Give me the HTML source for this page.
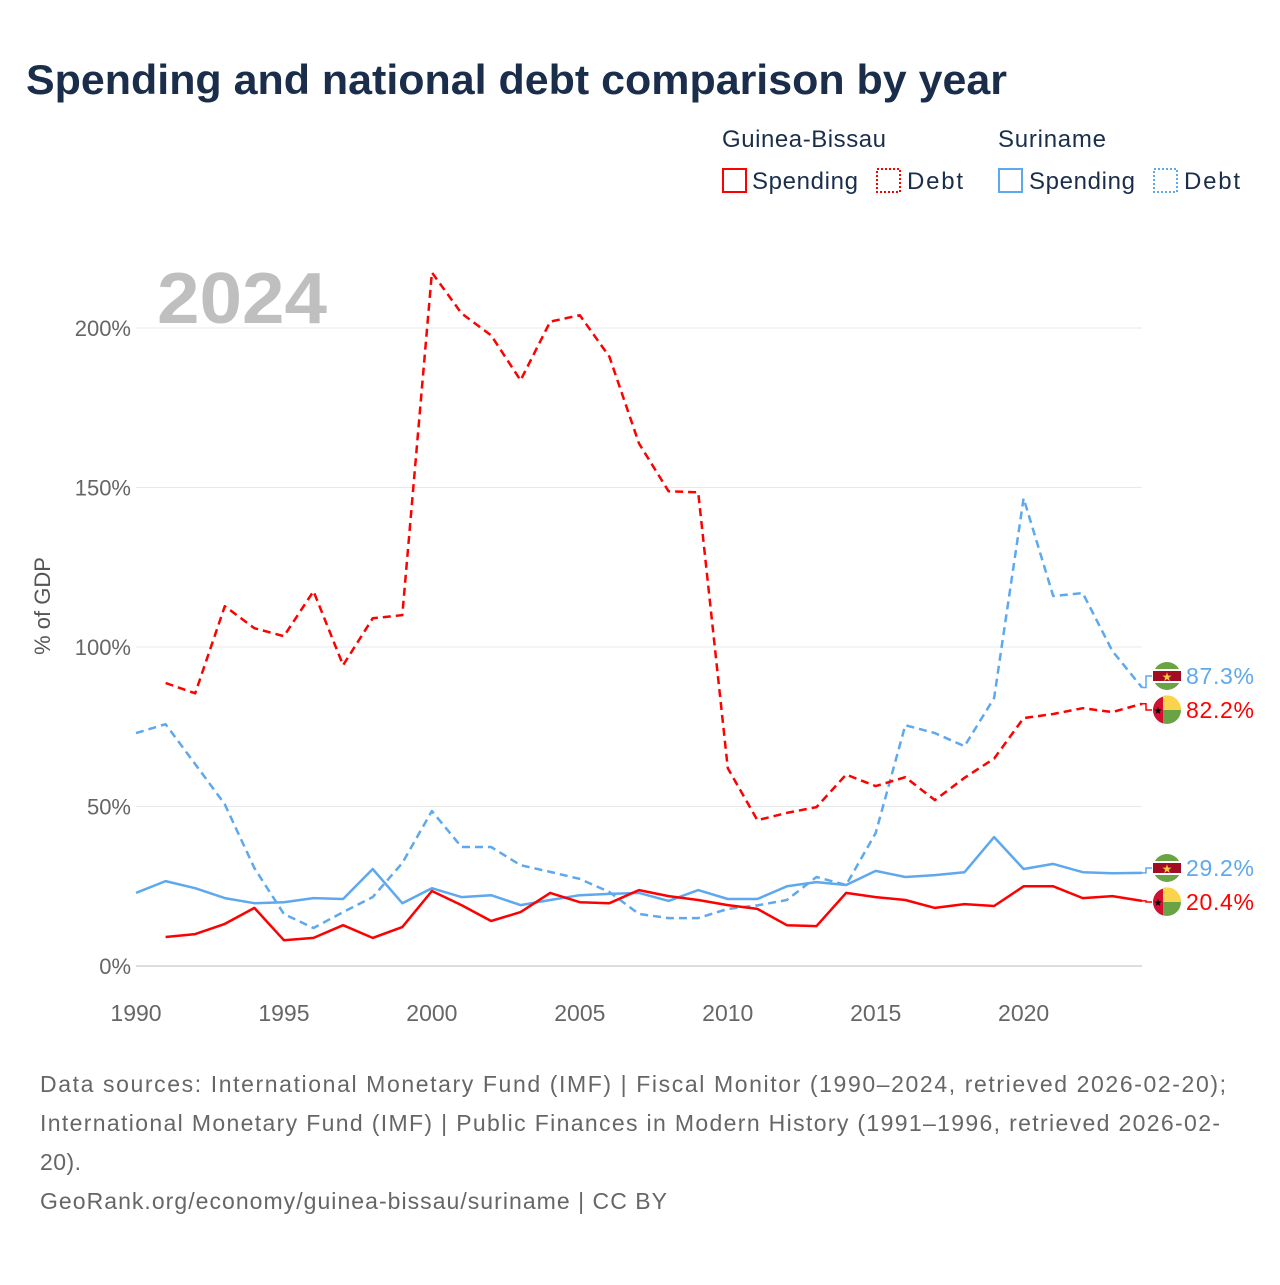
<!DOCTYPE html>
<html><head><meta charset="utf-8">
<style>
body{margin:0;background:#fff;font-family:"Liberation Sans",sans-serif;}
</style></head>
<body>
<svg width="1280" height="1280" viewBox="0 0 1280 1280" xmlns="http://www.w3.org/2000/svg" id="chart">
<rect width="1280" height="1280" fill="#fff"/>
<text x="26" y="94" font-size="42" font-weight="bold" fill="#1a2e4c" textLength="981" lengthAdjust="spacingAndGlyphs">Spending and national debt comparison by year</text>
<g font-size="24" fill="#1a2e4c">
<text x="722" y="147" textLength="164">Guinea-Bissau</text>
<text x="998" y="147" textLength="108">Suriname</text>
<g><rect x="723" y="169" width="23" height="23" fill="none" stroke="#ff0000" stroke-width="2"/><text x="752" y="189" textLength="106">Spending</text></g>
<g><rect x="877" y="169" width="23" height="23" fill="none" stroke="#ff0000" stroke-width="2" stroke-dasharray="2,2"/><text x="907" y="189" textLength="56">Debt</text></g>
<g><rect x="999" y="169" width="23" height="23" fill="none" stroke="#5ea8ee" stroke-width="2"/><text x="1029" y="189" textLength="106">Spending</text></g>
<g><rect x="1154" y="169" width="23" height="23" fill="none" stroke="#5ea8ee" stroke-width="2" stroke-dasharray="2,2"/><text x="1184" y="189" textLength="56">Debt</text></g>
</g>
<text x="157" y="323" font-size="72" font-weight="bold" fill="#bfbfbf" textLength="170" lengthAdjust="spacingAndGlyphs">2024</text>
<text transform="translate(50,606) rotate(-90)" text-anchor="middle" font-size="22" fill="#555">% of GDP</text>
<g id="grid"></g><g id="series"></g><g id="labels"></g>
<g font-size="23" fill="#666">
<text x="40" y="1092" textLength="1186">Data sources: International Monetary Fund (IMF) | Fiscal Monitor (1990–2024, retrieved 2026-02-20);</text>
<text x="40" y="1131" textLength="1180">International Monetary Fund (IMF) | Public Finances in Modern History (1991–1996, retrieved 2026-02-</text>
<text x="40" y="1170" textLength="41">20).</text>
<text x="40" y="1209" textLength="627">GeoRank.org/economy/guinea-bissau/suriname | CC BY</text>
</g>
</svg>
<script>
const yTicks=[0,50,100,150,200];
const xTicks=[1990,1995,2000,2005,2010,2015,2020];
const gbSpendYears=[1991,1992,1993,1994,1995,1996,1997,1998,1999,2000,2001,2002,2003,2004,2005,2006,2007,2008,2009,2010,2011,2012,2013,2014,2015,2016,2017,2018,2019,2020,2021,2022,2023,2024];
const gbSpending=[9.1,10,13.2,18.2,8.1,8.8,12.8,8.8,12.2,23.5,19.1,14.1,16.9,22.9,20,19.7,23.8,21.9,20.7,19.1,17.9,12.8,12.5,22.9,21.6,20.7,18.2,19.4,18.8,25,25,21.3,21.9,20.4];
const gbDebt=[88.7,85.5,112.8,105.9,103.4,117.5,94.3,109,110,217.4,204.6,197.7,183.6,202,204,191,163.8,148.8,148.5,62,45.7,48,49.8,60,56.4,59.2,52,59,65,77.7,79,80.8,79.6,82.2];
const srYears=[1990,1991,1992,1993,1994,1995,1996,1997,1998,1999,2000,2001,2002,2003,2004,2005,2006,2007,2008,2009,2010,2011,2012,2013,2014,2015,2016,2017,2018,2019,2020,2021,2022,2023,2024];
const srSpending=[22.9,26.6,24.4,21.3,19.7,20,21.3,21,30.4,19.7,24.4,21.6,22.2,19.1,20.7,22.2,22.6,22.9,20.4,23.8,21,21,25,26.3,25.4,29.8,27.9,28.5,29.4,40.4,30.4,32,29.4,29.1,29.2];
const srDebt=[73,75.8,63.3,50.7,30.7,16.3,11.9,16.9,21.6,32.3,48.6,37.3,37.3,31.6,29.5,27.3,23.2,16.3,15,15,17.9,19,20.7,27.9,25.4,41.7,75.5,73,68.9,84,146.6,116,116.9,98.7,87.3];
const NS='http://www.w3.org/2000/svg';
const X=y=>136+(y-1990)*(1142-136)/34;
const Y=v=>966-v*(966-328)/200;
function mk(t,a,p){const e=document.createElementNS(NS,t);for(const k in a)e.setAttribute(k,a[k]);p.appendChild(e);return e;}
const grid=document.getElementById('grid');
yTicks.forEach(v=>{
 const l=mk('line',{x1:136,x2:1142,y1:Y(v),y2:Y(v),stroke:v===0?'#ddd':'#e8e8e8','stroke-width':v===0?2:1},grid);
 
 
 const t=mk('text',{x:131,y:Y(v)+8,'text-anchor':'end','font-size':22,fill:'#666'},grid);t.textContent=v+'%';
 
 
});
xTicks.forEach(y=>{
 const t=mk('text',{x:X(y),y:1021,'text-anchor':'middle','font-size':23,fill:'#666'},grid);t.textContent=y;
 
 
});
const ser=document.getElementById('series');
function line(years,vals,color,dash,name){
 const p=mk('path',{d:vals.map((v,i)=>(i?'L':'M')+X(years[i]).toFixed(1)+','+Y(v).toFixed(1)).join(''),fill:'none',stroke:color,'stroke-width':2.5,'stroke-linejoin':'round','stroke-dasharray':dash},ser);
 
 
}
line(srYears,srDebt,'#5ea8ee','8,5','line-suriname-debt');
line(gbSpendYears,gbDebt,'#ff0000','8,5','line-guinea-bissau-debt');
line(srYears,srSpending,'#5ea8ee','none','line-suriname-spending');
line(gbSpendYears,gbSpending,'#ff0000','none','line-guinea-bissau-spending');
const lab=document.getElementById('labels');
function flagSR(g,cx,cy){
 mk('circle',{cx,cy,r:14,fill:'#6aa343'},g);
 mk('rect',{x:cx-14,y:cy-7,width:28,height:14,fill:'#fff'},g);
 mk('rect',{x:cx-14,y:cy-5,width:28,height:10,fill:'#a30d22'},g);
 const s=mk('text',{x:cx,y:cy+5,'text-anchor':'middle','font-size':12,fill:'#f5c842'},g);s.textContent='★';
}
function flagGB(g,cx,cy){
 mk('circle',{cx,cy,r:14,fill:'#6aa343'},g);
 mk('path',{d:`M${cx-4},${cy-14}A14,14 0 0 1 ${cx+14},${cy}L${cx-4},${cy}Z`,fill:'#fcd34d'},g);
 mk('path',{d:`M${cx-4},${cy-13.4}A14,14 0 0 0 ${cx-4},${cy+13.4}Z`,fill:'#d21034'},g);
 const s=mk('text',{x:cx-9,y:cy+4,'text-anchor':'middle','font-size':10,fill:'#000'},g);s.textContent='★';
}
function endLabel(val,ly,color,flag,name){
 const g=mk('g',{},lab);
 
 
 const y0=Y(val);
 mk('path',{d:`M1142,${y0}H1146V${ly}H1152`,fill:'none',stroke:color,'stroke-width':1.5},g);
 flag(g,1167,ly);
 const t=mk('text',{x:1186,y:ly+8,'font-size':23,fill:color,textLength:68},g);t.textContent=val.toFixed(1)+'%';
}
endLabel(srDebt[srDebt.length-1],676,'#5ea8ee',flagSR,'end-label-suriname-debt');
endLabel(gbDebt[gbDebt.length-1],710,'#ff0000',flagGB,'end-label-guinea-bissau-debt');
endLabel(srSpending[srSpending.length-1],868,'#5ea8ee',flagSR,'end-label-suriname-spending');
endLabel(gbSpending[gbSpending.length-1],902,'#ff0000',flagGB,'end-label-guinea-bissau-spending');
</script>
</body></html>
